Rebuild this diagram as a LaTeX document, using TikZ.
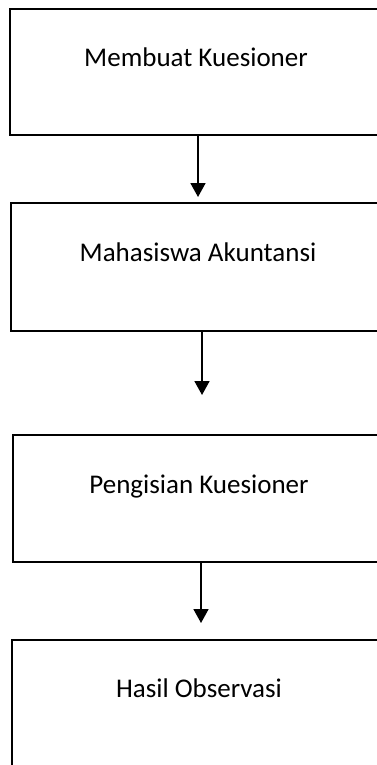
\documentclass[tikz,border=0pt]{standalone}
\usepackage{fontspec}
\setmainfont{Carlito}
\usetikzlibrary{arrows.meta}
\begin{document}
\begin{tikzpicture}[x=1pt,y=-1pt,
  box/.style={draw=black,line width=1.8pt,rectangle,inner sep=0pt},
  lbl/.style={anchor=base,inner sep=0pt,font=\fontsize{27}{32}\selectfont},
  arr/.style={line width=1.8pt,-{Triangle[width=15pt,length=14pt]}}]
\useasboundingbox (0,0) rectangle (377,765);
\clip (0,0) rectangle (377,765);
\node[box,minimum width=375pt,minimum height=126pt] (b1) at (197.5,72) {};
\node[box,minimum width=374pt,minimum height=128pt] (b2) at (198,267) {};
\node[box,minimum width=372pt,minimum height=127pt] (b3) at (199,498.5) {};
\node[box,minimum width=373pt,minimum height=150pt] (b4) at (198.5,715) {};
\node[lbl] (l1) at (196,67) {Membuat Kuesioner};
\node[lbl] (l2) at (198,261) {Mahasiswa Akuntansi};
\node[lbl] (l3) at (199,493) {Pengisian Kuesioner};
\node[lbl] (l4) at (199,697) {Hasil Observasi};
\coordinate (t1) at (198,197);
\coordinate (t2) at (202,395);
\coordinate (t3) at (201,623);
\draw[arr] (t1 |- b1.south) -- (t1);
\draw[arr] (t2 |- b2.south) -- (t2);
\draw[arr] (t3 |- b3.south) -- (t3);
\end{tikzpicture}
\end{document}
